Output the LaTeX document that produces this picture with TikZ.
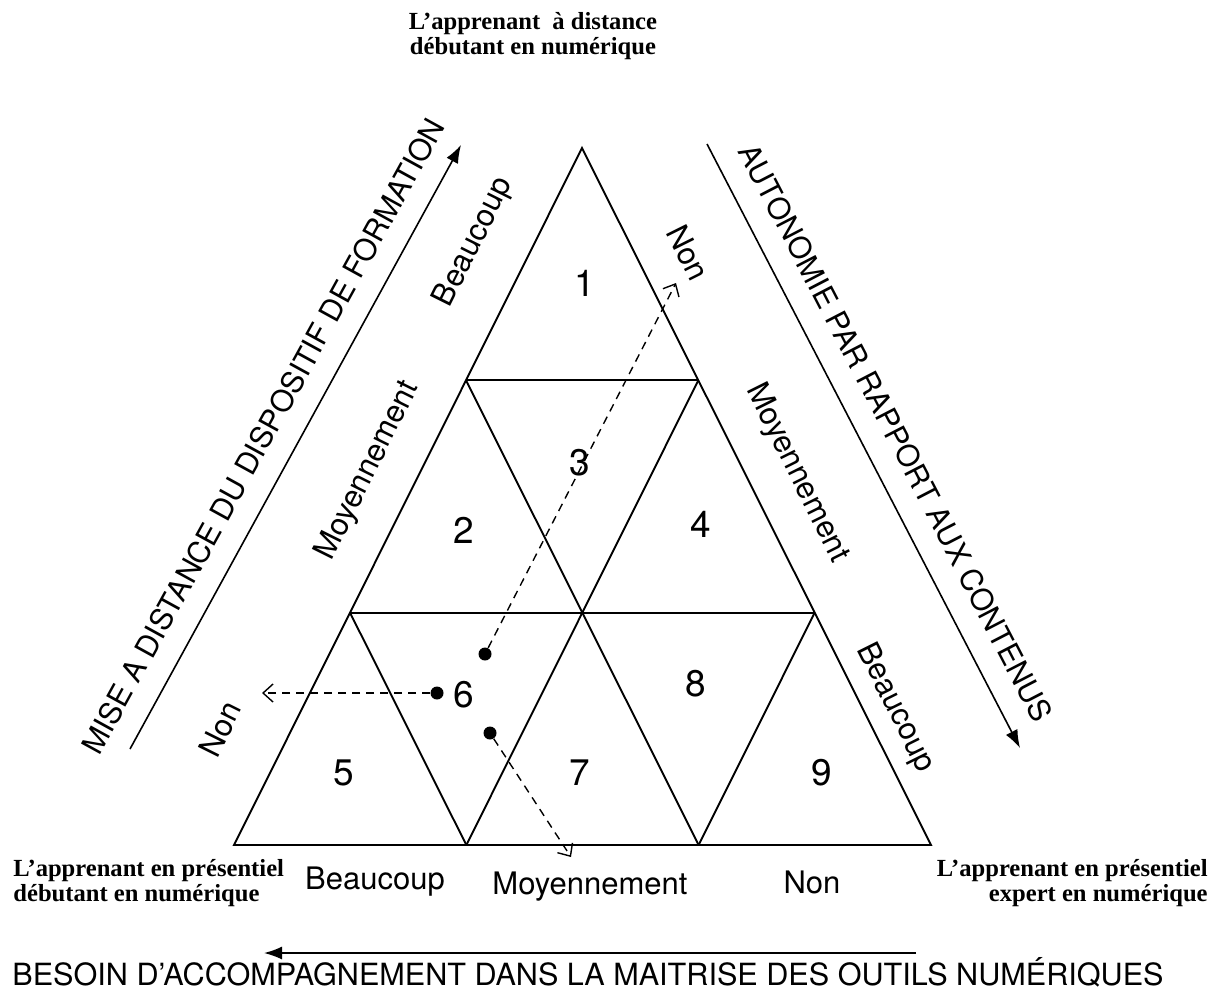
\documentclass[tikz,border=0pt]{standalone}
\usepackage{fontspec}
\setmainfont{TeX Gyre Heros}
\newfontfamily\lblfont{Liberation Serif}
\usetikzlibrary{arrows.meta,calc}
\begin{document}
\begin{tikzpicture}[x=0.5pt,y=-0.5pt,
 edge/.style={line width=0.95pt},
 num/.style={font=\fontsize{18.5}{20}\selectfont, inner sep=0},
 lab/.style={font=\fontsize{15.5}{18}\selectfont, inner sep=0},
 axistext/.style={font=\fontsize{15}{18}\selectfont, inner sep=0},
 side/.style={font=\lblfont\bfseries\fontsize{12.3}{12.5}\selectfont, inner sep=0},
 dot/.style={circle,fill,inner sep=0,minimum size=6.5pt},
 dasharrow/.style={dash pattern=on 4pt off 3pt, line width=0.7pt, -{Straight Barb[length=5pt,width=9pt]}},
 axisarrow/.style={line width=0.8pt, -{Latex[length=9pt,width=6.5pt]}}]
\useasboundingbox (0,0) rectangle (1213,996);
% triangle
\coordinate (A) at (582,148);
\coordinate (B) at (234,845);
\coordinate (C) at (931,845);
\coordinate (L1) at ($(A)!1/3!(B)$);
\coordinate (R1) at ($(A)!1/3!(C)$);
\coordinate (L2) at ($(A)!2/3!(B)$);
\coordinate (R2) at ($(A)!2/3!(C)$);
\coordinate (B1) at ($(B)!1/3!(C)$);
\coordinate (B2) at ($(B)!2/3!(C)$);
\draw[edge] (A) -- (B) -- (C) -- cycle;
\draw[edge] (L1) -- (R1);
\draw[edge] (L2) -- (R2);
\draw[edge] (L1) -- (B2);
\draw[edge] (R1) -- (B1);
\draw[edge] (L2) -- (B1);
\draw[edge] (R2) -- (B2);
% numbers
\node[num] (n1) at (585,283) {1};
\node[num] (n2) at (464,530) {2};
\node[num] (n3) at (580,463) {3};
\node[num] (n4) at (701,524) {4};
\node[num] (n5) at (344,773) {5};
\node[num] (n6) at (464,695) {6};
\node[num] (n7) at (580,773) {7};
\node[num] (n8) at (696,684) {8};
\node[num] (n9) at (822,773) {9};
% dots and dashed arrows
\node[dot] (d1) at (485,654) {};
\node[dot] (d2) at (437,693) {};
\node[dot] (d3) at (490,733) {};
\coordinate (e1) at (676,283);
\coordinate (e2) at (262,693);
\coordinate (e3) at (571,857);
\draw[dasharrow] (d1) -- (e1);
\draw[dasharrow] (d2) -- (e2);
\draw[dasharrow] (d3) -- (e3);
% edge labels left
\node[lab, rotate=63.5] (lb1) at (474,242) {Beaucoup};
\node[lab, rotate=63.5] (lb2) at (368,471) {Moyennement};
\node[lab, rotate=63.5] (lb3) at (220,729) {Non};
% edge labels right
\node[lab, rotate=-63.5] (rb1) at (688,253) {Non};
\node[lab, rotate=-63.5] (rb2) at (797,473) {Moyennement};
\node[lab, rotate=-63.5] (rb3) at (895,708) {Beaucoup};
% bottom labels
\node[lab] (bb1) at (375,882) {Beaucoup};
\node[lab] (bb2) at (590,887) {Moyennement};
\node[lab] (bb3) at (812,882) {Non};
% axes
\coordinate (la0) at (130,749);
\coordinate (la1) at (461,145);
\draw[axisarrow] (la0) -- (la1);
\node[axistext, rotate=61.2] (lt) at (263,436) {MISE A DISTANCE DU DISPOSITIF DE FORMATION};
\coordinate (ra0) at (707,144);
\coordinate (ra1) at (1020,748);
\draw[axisarrow] (ra0) -- (ra1);
\node[axistext, rotate=-62.6] (rt) at (896,433) {AUTONOMIE PAR RAPPORT AUX CONTENUS};
\coordinate (ba0) at (916,953);
\coordinate (ba1) at (264,953);
\draw[axisarrow] (ba0) -- (ba1);
\node[axistext, font=\fontsize{15.3}{18}\selectfont, anchor=base] (bt) at (588,985) {BESOIN D’ACCOMPAGNEMENT DANS LA MAITRISE DES OUTILS NUMÉRIQUES};
% corner labels
\node[side, align=center, anchor=north] (top) at (533,12) {L’apprenant\ \ à distance\\débutant en numérique};
\node[side, align=left, anchor=north west] (bl) at (13,859) {L’apprenant en présentiel\\débutant en numérique};
\node[side, align=right, anchor=north east] (br) at (1208,859) {L’apprenant en présentiel\\expert en numérique};
\end{tikzpicture}
\end{document}
